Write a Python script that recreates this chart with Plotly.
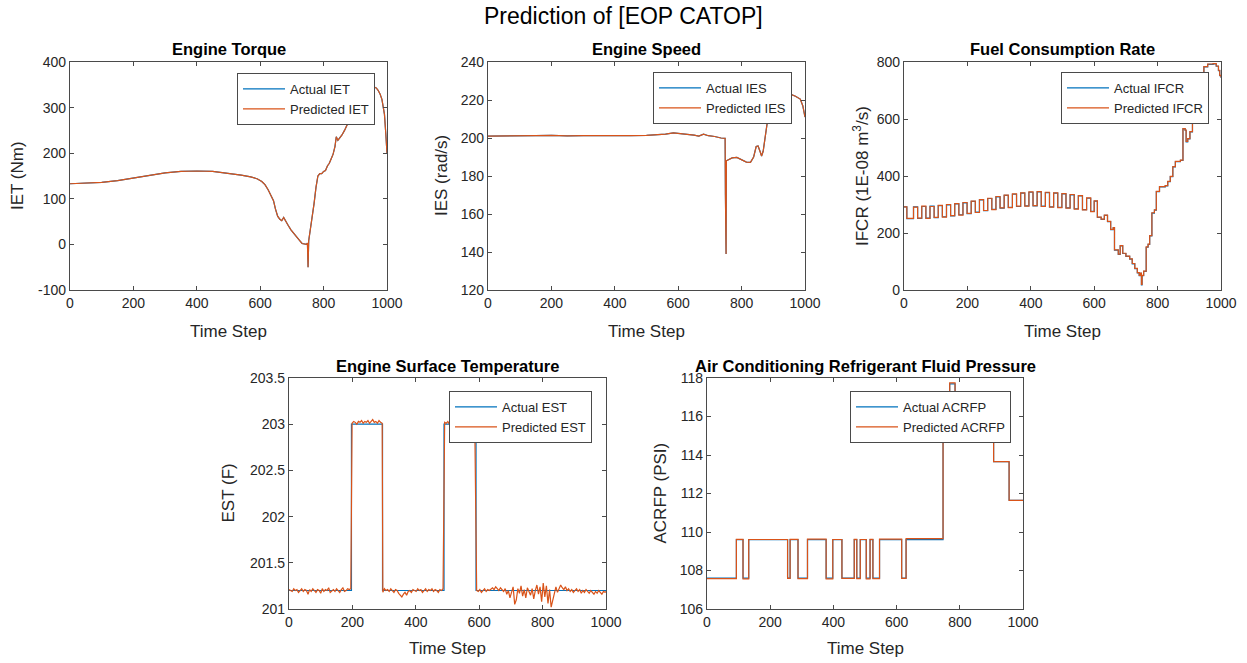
import plotly.graph_objects as go

# ---------------------------------------------------------------- data
# Engine torque (Nm)
iet_t = [0, 50, 100, 150, 200, 250, 300, 350, 400, 450, 500, 540, 570, 590, 605, 615, 625, 635,
         642, 648, 655, 662, 668, 674, 680, 688, 697, 706, 715, 724, 732, 740, 746, 749, 750, 751,
         753, 758, 764, 770, 776, 782, 788, 794, 800, 806, 812, 818, 824, 830, 836, 840, 845, 850,
         858, 866, 874, 882, 890, 900, 910, 920, 930, 940, 950, 960, 966, 972, 978, 984, 988, 992,
         996, 1000]
iet_actual = [133, 134, 136, 140, 146, 151, 157, 160, 161, 160, 156, 152, 148, 144, 138, 131, 120, 106,
              96, 78, 62, 55, 52, 59, 51, 42, 32, 25, 17, 9, 2, 0, 0, 3, -50, -50,
              8, 30, 60, 90, 125, 150, 155, 155, 160, 162, 172, 178, 188, 198, 215, 236, 228, 232,
              240, 250, 262, 278, 292, 305, 315, 325, 332, 338, 342, 345, 343, 338, 330, 318, 305, 285,
              245, 200]
iet_pred = iet_actual

# Engine speed (rad/s)
ies_t = [0, 50, 100, 150, 200, 250, 300, 350, 400, 450, 500, 540, 560, 585, 610, 630, 650, 665,
         680, 695, 715, 735, 748, 749, 750, 751, 752, 758, 770, 785, 800, 815, 828, 838, 846, 852,
         858, 863, 868, 874, 880, 886, 892, 900, 920, 940, 958, 970, 985, 993, 1000]
ies_actual = [201.0, 201.0, 201.2, 201.2, 201.4, 201.1, 201.3, 201.2, 201.1, 201.2, 201.4, 201.6, 202.0,
              202.7, 202.3, 201.8, 201.5, 201.0, 202.0, 201.2, 200.8, 200.0, 199.8, 170.0, 139.0, 139.0,
              188.0, 188.6, 189.5, 189.8, 188.5, 187.3, 187.2, 190.0, 195.5, 195.8, 193.0, 190.5, 193.0,
              200.0, 207.0, 211.0, 214.0, 216.0, 218.0, 221.0, 222.8, 222.0, 220.5, 217.0, 211.0]
ies_pred = ies_actual

# Fuel consumption rate (1E-08 m^3/s), stepwise
ifcr_t = [0, 9,
          30, 43, 56, 69, 82, 95, 108, 121, 134, 147, 160, 173, 186, 199, 212, 225, 238, 251,
          264, 277, 290, 303, 316, 329, 342, 355, 368, 381, 394, 407, 420, 433, 446, 459, 472, 485,
          498, 511, 524, 537, 550, 563, 576, 589, 600, 610,
          622, 632, 642, 652, 660, 664, 676, 682, 690, 700, 712, 720, 728, 736, 742, 746, 749, 751,
          756, 764, 770, 775, 782, 790, 796, 806, 824, 832, 840, 848, 856, 872, 880, 887, 890, 895,
          902, 910, 916, 924, 932, 940, 946, 958, 975, 985, 992, 996, 1000]
ifcr_actual = [292, 250,
               292, 251, 293, 252, 294, 254, 296, 257, 299, 260, 302, 264, 306, 268, 311, 273, 316, 278,
               321, 283, 327, 287, 332, 290, 336, 293, 340, 295, 343, 295, 344, 294, 342, 292, 340, 290,
               337, 288, 334, 285, 330, 282, 322, 276, 312, 255,
               248, 262, 240, 212, 218, 140, 125, 155, 128, 118, 108, 92, 75, 60, 50, 58, 18, 50,
               65, 150, 160, 190, 270, 280, 345, 362, 365, 380, 398, 432, 450, 455, 565, 560, 520, 530,
               555, 585, 600, 640, 700, 760, 783, 792, 793, 785, 770, 752, 745]
ifcr_pred = [292, 251,
             291, 252, 294, 251, 293, 255, 297, 256, 300, 261, 303, 263, 307, 269, 312, 272, 317, 279,
             322, 282, 328, 288, 333, 289, 337, 294, 341, 294, 344, 296, 345, 293, 343, 291, 341, 289,
             338, 287, 335, 284, 331, 281, 323, 275, 313, 256,
             249, 263, 241, 213, 219, 141, 126, 156, 129, 119, 109, 93, 76, 61, 51, 59, 20, 51,
             66, 151, 161, 191, 271, 281, 346, 363, 366, 381, 399, 433, 451, 456, 566, 561, 521, 531,
             556, 586, 601, 641, 701, 761, 784, 793, 794, 786, 771, 753, 746]

# Engine surface temperature (F)
est_t = [0, 197, 295, 489, 590, 1000]
est_actual = [201.2, 203.0, 201.2, 203.0, 201.2, 201.2]

est_pred_t = (list(range(0, 200, 5)) + list(range(199, 295, 5)) + list(range(296, 490, 5))
              + list(range(491, 590, 5)) + list(range(592, 1001, 5)) + [1000])
est_pred = [
    # 0-195
    201.21, 201.20, 201.19, 201.22, 201.20, 201.21, 201.18, 201.20, 201.22, 201.19,
    201.21, 201.20, 201.16, 201.21, 201.19, 201.22, 201.20, 201.18, 201.21, 201.20,
    201.17, 201.22, 201.19, 201.21, 201.20, 201.23, 201.18, 201.20, 201.21, 201.19,
    201.22, 201.20, 201.18, 201.21, 201.23, 201.19, 201.20, 201.22, 201.21, 201.22,
    # 199-294
    203.01, 203.03, 203.02, 203.00, 203.03, 203.02, 203.04, 203.01, 203.03, 203.02,
    203.04, 203.01, 203.03, 203.05, 203.02, 203.03, 203.01, 203.04, 203.02, 203.01,
    # 296-486
    201.18, 201.22, 201.20, 201.21, 201.19, 201.22, 201.20, 201.18, 201.21, 201.20,
    201.17, 201.15, 201.13, 201.16, 201.18, 201.15, 201.19, 201.20, 201.18, 201.21,
    201.20, 201.19, 201.22, 201.20, 201.21, 201.18, 201.20, 201.22, 201.19, 201.21,
    201.20, 201.22, 201.19, 201.21, 201.20, 201.18, 201.21, 201.20, 201.22,
    # 491-586
    203.02, 203.01, 203.03, 203.00, 203.02, 203.04, 203.01, 203.03, 203.02, 203.00,
    203.03, 203.01, 203.04, 203.02, 203.01, 203.03, 203.02, 203.00, 203.03, 203.02,
    # 592-997
    201.20, 201.19, 201.21, 201.18, 201.20, 201.22, 201.19, 201.21, 201.20, 201.22,
    201.23, 201.21, 201.24, 201.22, 201.20, 201.23, 201.21, 201.19, 201.22, 201.16,
    201.20, 201.12, 201.18, 201.24, 201.05, 201.10, 201.22, 201.17, 201.25, 201.14,
    201.21, 201.12, 201.23, 201.19, 201.15, 201.22, 201.11, 201.20, 201.26, 201.16,
    201.24, 201.08, 201.28, 201.13, 201.25, 201.06, 201.21, 201.02, 201.09, 201.15,
    201.24, 201.18, 201.22, 201.26, 201.23, 201.21, 201.24, 201.20, 201.22, 201.19,
    201.21, 201.18, 201.20, 201.22, 201.19, 201.21, 201.17, 201.20, 201.18, 201.21,
    201.19, 201.17, 201.20, 201.18, 201.16, 201.19, 201.17, 201.20, 201.18, 201.16,
    201.19, 201.18,
    # 1000
    201.19,
]

# Air conditioning refrigerant fluid pressure (PSI), stepwise
acrfp_t = [0, 93, 114, 132, 255, 263, 288, 318, 377, 398, 427, 466, 474, 485, 504, 516, 525,
           546, 616, 630, 747, 768, 785, 907, 956, 1000]
acrfp_actual = [107.6, 109.6, 107.6, 109.6, 107.6, 109.6, 107.6, 109.6, 107.6, 109.6, 107.6,
                109.6, 107.6, 109.6, 107.6, 109.6, 107.6, 109.6, 107.6, 109.6, 116.0, 117.7,
                115.6, 113.65, 111.65, 111.65]
acrfp_pred = [107.58, 109.62, 107.57, 109.61, 107.59, 109.62, 107.58, 109.63, 107.57, 109.61,
              107.59, 109.62, 107.58, 109.61, 107.57, 109.62, 107.58, 109.63, 107.59, 109.66,
              116.0, 117.75, 115.62, 113.66, 111.64, 111.64]

# Tick labels
x_ticks = [0, 200, 400, 600, 800, 1000]
iet_ticks = [-100, 0, 100, 200, 300, 400]
ies_ticks = [120, 140, 160, 180, 200, 220, 240]
ifcr_ticks = [0, 200, 400, 600, 800]
est_ticks = [201, 201.5, 202, 202.5, 203, 203.5]
acrfp_ticks = [106, 108, 110, 112, 114, 116, 118]

# ---------------------------------------------------------------- layout helpers
W, H = 1247, 663
BLUE, ORANGE = "#0072BD", "#D95319"
INK = "#262626"
FRAME = "#4a4a4a"
FONT = "Liberation Sans, Arial, sans-serif"

# plot boxes in pixels: left, right, top, bottom
boxes = {
    1: (70, 387, 62, 290),
    2: (488, 805, 62, 290),
    3: (904, 1221, 62, 290),
    4: (289, 606, 378, 609),
    5: (707, 1023, 378, 609),
}

panels = [
    dict(t=iet_t, a=iet_actual, pt=iet_t, p=iet_pred, shape="linear", key="IET",
         title="Engine Torque", ytitle="IET (Nm)", yr=[-100, 400], yt=iet_ticks,
         ytx=18, leg=(375, 73)),
    dict(t=ies_t, a=ies_actual, pt=ies_t, p=ies_pred, shape="linear", key="IES",
         title="Engine Speed", ytitle="IES (rad/s)", yr=[120, 240], yt=ies_ticks,
         ytx=442, leg=(792, 72)),
    dict(t=ifcr_t, a=ifcr_actual, pt=ifcr_t, p=ifcr_pred, shape="hv", key="IFCR",
         title="Fuel Consumption Rate", ytitle="IFCR (1E-08 m<sup>3</sup>/s)", yr=[0, 800],
         yt=ifcr_ticks, ytx=861, leg=(1209, 72)),
    dict(t=est_t, a=est_actual, pt=est_pred_t, p=est_pred, shape="hv", pshape="linear", key="EST",
         title="Engine Surface Temperature", ytitle="EST (F)", yr=[201, 203.5], yt=est_ticks,
         ytx=228, leg=(592, 391)),
    dict(t=acrfp_t, a=acrfp_actual, pt=acrfp_t, p=acrfp_pred, shape="hv", key="ACRFP",
         title="Air Conditioning Refrigerant Fluid Pressure", ytitle="ACRFP (PSI)",
         yr=[106, 118], yt=acrfp_ticks, ytx=660, leg=(1011, 391)),
]

fig = go.Figure()
layout = dict(
    template="none",
    width=W, height=H,
    margin=dict(l=0, r=0, t=0, b=0, pad=0, autoexpand=False),
    paper_bgcolor="white", plot_bgcolor="white",
    font=dict(family=FONT, color=INK, size=14),
    annotations=[],
)

layout["annotations"].append(dict(
    text="Prediction of [EOP CATOP]", x=0.5, y=1 - 16 / H, xref="paper", yref="paper",
    xanchor="center", yanchor="middle", showarrow=False,
    font=dict(family=FONT, size=23, color="black")))

for i, pan in enumerate(panels, start=1):
    l, r, t, b = boxes[i]
    sfx = "" if i == 1 else str(i)
    leg_name = "legend" if i == 1 else f"legend{i}"

    fig.add_trace(go.Scatter(
        x=pan["t"], y=pan["a"], mode="lines", name=f"Actual {pan['key']}",
        line=dict(color=BLUE, width=1.2, shape=pan["shape"]),
        xaxis=f"x{sfx}", yaxis=f"y{sfx}", legend=leg_name, hoverinfo="skip"))
    fig.add_trace(go.Scatter(
        x=pan["pt"], y=pan["p"], mode="lines", name=f"Predicted {pan['key']}",
        line=dict(color=ORANGE, width=1.2, shape=pan.get("pshape", pan["shape"])),
        xaxis=f"x{sfx}", yaxis=f"y{sfx}", legend=leg_name, hoverinfo="skip"))

    axis_common = dict(
        showline=True, linecolor=FRAME, linewidth=1.2, mirror="ticks",
        ticks="inside", ticklen=4, tickcolor=FRAME, tickwidth=1,
        showgrid=False, zeroline=False, automargin=False,
        tickfont=dict(family=FONT, size=14, color=INK),
    )
    layout[f"xaxis{sfx}"] = dict(
        domain=[l / W, r / W], anchor=f"y{sfx}", range=[0, 1000],
        tickvals=x_ticks, ticktext=[str(v) for v in x_ticks], **axis_common)
    layout[f"yaxis{sfx}"] = dict(
        domain=[1 - b / H, 1 - t / H], anchor=f"x{sfx}", range=pan["yr"],
        tickvals=pan["yt"], ticktext=[f"{v:g}" for v in pan["yt"]], **axis_common)

    lx, ly = pan["leg"]
    layout[leg_name] = dict(
        x=lx / W, y=1 - ly / H, xanchor="right", yanchor="top",
        xref="paper", yref="paper",
        bgcolor="white", bordercolor=FRAME, borderwidth=1,
        font=dict(family=FONT, size=13, color=INK),
        tracegroupgap=0, itemwidth=42,
    )

    cx = (l + r) / 2
    title_y = 49 if t < 300 else 366
    xt_y = 331 if t < 300 else 648
    layout["annotations"].append(dict(
        text=f"<b>{pan['title']}</b>", x=cx / W, y=1 - title_y / H, xref="paper", yref="paper",
        xanchor="center", yanchor="middle", showarrow=False,
        font=dict(family=FONT, size=16.5, color="black")))
    layout["annotations"].append(dict(
        text="Time Step", x=cx / W, y=1 - xt_y / H, xref="paper", yref="paper",
        xanchor="center", yanchor="middle", showarrow=False,
        font=dict(family=FONT, size=17, color=INK)))
    layout["annotations"].append(dict(
        text=pan["ytitle"], x=pan["ytx"] / W, y=1 - ((t + b) / 2) / H, xref="paper", yref="paper",
        xanchor="center", yanchor="middle", showarrow=False, textangle=-90,
        font=dict(family=FONT, size=17, color=INK)))

fig.update_layout(**layout)
fig.write_html("out.html")
